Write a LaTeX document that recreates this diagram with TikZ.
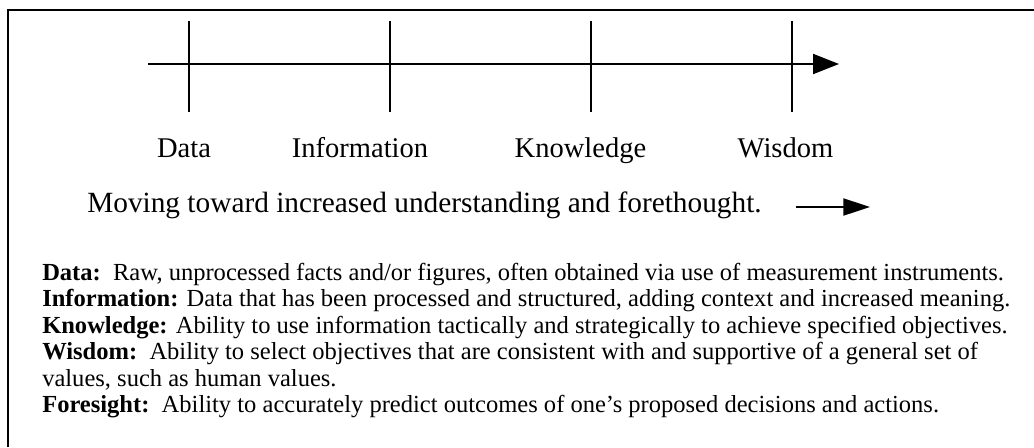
\documentclass[tikz,border=0pt]{standalone}
\usepackage{fontspec}
\setmainfont{Liberation Serif}
\usetikzlibrary{arrows.meta}
\begin{document}
\begin{tikzpicture}[x=0.75pt,y=-0.75pt,
  frame/.style={line width=1.6pt},
  axis/.style={line width=1.5pt},
  tick/.style={line width=1.5pt},
  lbl/.style={anchor=base, inner sep=0pt, font=\fontsize{21.4}{25}\selectfont},
  caption/.style={anchor=base west, inner sep=0pt, font=\fontsize{22}{26}\selectfont},
  defn/.style={anchor=base west, inner sep=0pt, font=\fontsize{18.4}{21}\selectfont}]
\useasboundingbox (0,0) rectangle (1034,447);
% frame (open at right and bottom)
\coordinate (fbl) at (8,447);
\coordinate (ftl) at (8,10);
\coordinate (ftr) at (1034,10);
\draw[frame] (fbl) -- (ftl) -- (ftr);
% main axis
\coordinate (a0) at (148,64);
\coordinate (a1) at (839,64);
\draw[axis,-{Triangle[length=19.5pt,width=15pt]}] (a0) -- (a1);
% ticks
\foreach \x/\n in {189/d,390/i,591/k,792/w}{
  \coordinate (t\n top) at (\x,21);
  \coordinate (t\n bot) at (\x,112);
  \draw[tick] (t\n top) -- (t\n bot);
}
% labels
\node[lbl] (ldata) at (184,157) {Data};
\node[lbl] (linfo) at (360,157) {Information};
\node[lbl] (lknow) at (580.5,157) {Knowledge};
\node[lbl] (lwis) at (785.5,157) {Wisdom};
% caption
\node[caption] (cap) at (87,212) {Moving toward increased understanding and forethought.};
\coordinate (s0) at (796,207);
\coordinate (s1) at (870,207);
\draw[axis,-{Triangle[length=20pt,width=12.75pt]}] (s0) -- (s1);
% definitions
\node[defn] (d1) at (42,280) {\textbf{Data:}\ \ Raw, unprocessed facts and/or figures, often obtained via use of measurement instruments.};
\node[defn] (d2) at (42,306.5) {\textbf{Information:} Data that has been processed and structured, adding context and increased meaning.};
\node[defn] (d3) at (42,333) {\textbf{Knowledge:} Ability to use information tactically and strategically to achieve specified objectives.};
\node[defn] (d4) at (42,359.5) {\textbf{Wisdom:}\ \ Ability to select objectives that are consistent with and supportive of a general set of};
\node[defn] (d5) at (42,386) {values, such as human values.};
\node[defn] (d6) at (42,412.5) {\textbf{Foresight:}\ \ Ability to accurately predict outcomes of one’s proposed decisions and actions.};
\end{tikzpicture}
\end{document}
